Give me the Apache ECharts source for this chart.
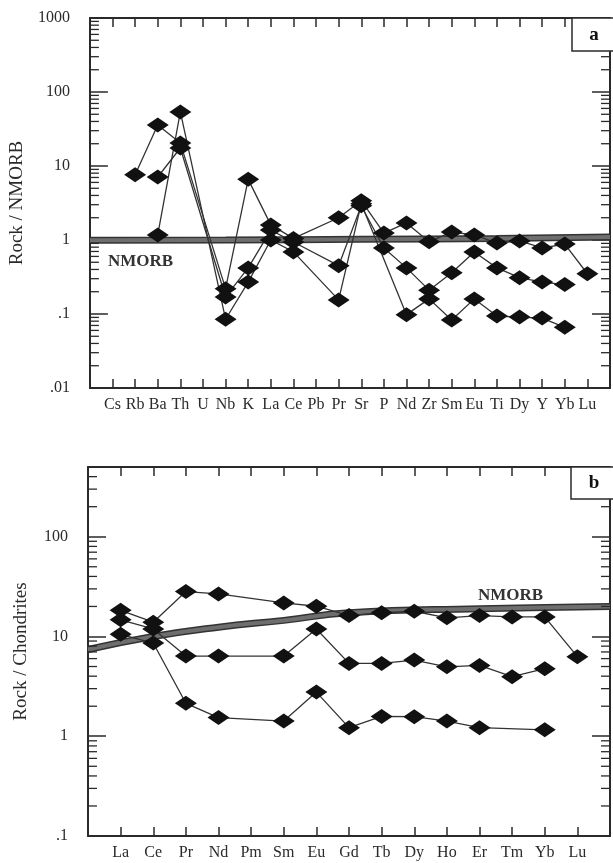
<!DOCTYPE html>
<html>
<head>
<meta charset="utf-8">
<script src="https://cdn.jsdelivr.net/npm/echarts@6/dist/echarts.min.js"></script>
<style>
  html, body { margin: 0; padding: 0; background: #fff; }
  #main { width: 613px; height: 863px; }
</style>
</head>
<body>
<div id="main"></div>
<script>
// spider diagram (a) — NMORB normalised
var spiderCats = ['Cs', 'Rb', 'Ba', 'Th', 'U', 'Nb', 'K', 'La', 'Ce', 'Pb', 'Pr', 'Sr', 'P', 'Nd', 'Zr', 'Sm', 'Eu', 'Ti', 'Dy', 'Y', 'Yb', 'Lu'];
var spiderS1 = [null, 7.6, 35.8, 20.4, null, 0.22, 6.6, 1.6, 1.05, null, 2.0, 3.4, 1.24, 1.7, 0.95, 1.28, 1.17, 0.91, 0.97, 0.78, 0.88, 0.35];
var spiderS2 = [null, null, 7.1, 17.5, null, 0.17, 0.42, 1.36, 0.94, null, 0.45, 2.9, 0.78, 0.42, 0.21, 0.36, 0.69, 0.42, 0.31, 0.27, 0.25, null];
var spiderS3 = [null, null, 1.17, 53.7, null, 0.085, 0.27, 1.0, 0.69, null, 0.155, 3.1, null, 0.098, 0.16, 0.083, 0.16, 0.094, 0.091, 0.088, 0.066, null];
// NMORB reference band, [position, value]
var spiderNmorb = [[0, 0.99], [6, 1.0], [12, 1.02], [18, 1.05], [23, 1.1]];
var spiderTickLabels = ['.01', '.1', '1', '10', '100', '1000'];

// REE diagram (b) — chondrite normalised
var reeCats = ['La', 'Ce', 'Pr', 'Nd', 'Pm', 'Sm', 'Eu', 'Gd', 'Tb', 'Dy', 'Ho', 'Er', 'Tm', 'Yb', 'Lu'];
var reeR1 = [18.3, 13.9, 28.2, 26.7, null, 21.7, 20.1, 16.2, 17.3, 17.9, 15.4, 16.2, 15.7, 15.7, 6.27];
var reeR2 = [14.7, 11.9, 6.36, 6.36, null, 6.36, 11.9, 5.37, 5.37, 5.8, 4.97, 5.13, 3.95, 4.75, null];
var reeR3 = [10.5, 8.6, 2.14, 1.54, null, 1.42, 2.77, 1.22, 1.58, 1.57, 1.42, 1.22, null, 1.16, null];
var reeNmorb = [[0, 7.4], [2, 10.0], [4, 12.4], [6, 14.5], [8, 17.3], [12, 19.0], [16, 20.0]];
var reeTickLabels = ['.1', '1', '10', '100'];

var FONT = 'Liberation Serif';
var INK = '#2a2a2a';

function toPairs(arr) {
    var out = [];
    arr.forEach(function (v, i) {
        if (v !== null) out.push([i + 1, v]);
    });
    return out;
}

function minorValues(lo, hi) {
    var vals = [];
    for (var e = lo; e < hi; e++) {
        for (var m = 2; m <= 9; m++) {
            var v = m * Math.pow(10, e);
            vals.push(v);
        }
    }
    return vals;
}

function logLabel(labels, minExp) {
    return function (v) {
        var e = Math.log10(v);
        if (Math.abs(e - Math.round(e)) > 1e-6) return '';
        return labels[Math.round(e) - minExp] || '';
    };
}

function catLabel(cats) {
    return function (v) {
        return (v >= 1 && v <= cats.length && v === Math.round(v)) ? cats[v - 1] : '';
    };
}

function xAxes(gridIndex, cats) {
    var n = cats.length + 1;
    var base = {
        type: 'value', gridIndex: gridIndex, min: 0, max: n, interval: 1,
        splitLine: { show: false },
        axisLine: { show: true, onZero: false, lineStyle: { color: INK, width: 2 } },
        axisTick: { show: true, inside: true, length: 9, lineStyle: { color: INK, width: 1.5 } }
    };
    var bottom = echarts.util.merge({
        position: 'bottom',
        axisLabel: { formatter: catLabel(cats), color: INK, fontFamily: FONT, fontSize: 16, margin: 9 }
    }, base, true);
    var top = echarts.util.merge({
        position: 'top',
        axisLabel: { show: false }
    }, base, true);
    return [bottom, top];
}

function yAxes(gridIndex, min, max, labels, minExp, title) {
    var base = {
        type: 'log', logBase: 10, gridIndex: gridIndex, min: min, max: max,
        splitLine: { show: false },
        axisLine: { show: true, onZero: false, lineStyle: { color: INK, width: 2 } },
        axisTick: { show: true, inside: true, length: 18, lineStyle: { color: INK, width: 1.5 } }
    };
    var left = echarts.util.merge({
        position: 'left',
        name: title, nameLocation: 'middle', nameGap: 57, nameRotate: 90,
        nameTextStyle: { color: INK, fontFamily: FONT, fontSize: 19 },
        axisLabel: { formatter: logLabel(labels, minExp), color: INK, fontFamily: FONT, fontSize: 16, margin: 20 }
    }, base, true);
    var right = echarts.util.merge({
        position: 'right',
        axisLabel: { show: false }
    }, base, true);
    return [left, right];
}

function sampleSeries(xi, yi, arr) {
    return {
        type: 'line', xAxisIndex: xi, yAxisIndex: yi,
        data: toPairs(arr),
        symbol: 'diamond', symbolSize: [22, 15],
        itemStyle: { color: '#111' },
        lineStyle: { color: '#333', width: 1.3 },
        z: 5, animation: false
    };
}

function bandSeries(xi, yi, pts) {
    return [{
        type: 'line', xAxisIndex: xi, yAxisIndex: yi, data: pts, smooth: true,
        symbol: 'none', lineStyle: { color: '#333', width: 7 }, z: 2, animation: false
    }, {
        type: 'line', xAxisIndex: xi, yAxisIndex: yi, data: pts, smooth: true,
        symbol: 'none', lineStyle: { color: '#6e6e6e', width: 4 }, z: 3, animation: false
    }];
}

function minorTickSeries(xi, yi, xmax, vals) {
    return {
        type: 'custom', xAxisIndex: xi, yAxisIndex: yi, clip: false, silent: true,
        data: vals.map(function (v) { return [0, v]; }),
        encode: { x: 0, y: 1 },
        renderItem: function (params, api) {
            var v = api.value(1);
            var l = api.coord([0, v]);
            var r = api.coord([xmax, v]);
            var st = { stroke: INK, lineWidth: 1.3 };
            return {
                type: 'group', children: [
                    { type: 'line', shape: { x1: l[0], y1: l[1], x2: l[0] + 9, y2: l[1] }, style: st },
                    { type: 'line', shape: { x1: r[0], y1: r[1], x2: r[0] - 9, y2: r[1] }, style: st }
                ]
            };
        },
        z: 4, animation: false
    };
}

var xa = xAxes(0, spiderCats);
var xb = xAxes(1, reeCats);
var ya = yAxes(0, 0.01, 1000, spiderTickLabels, -2, 'Rock / NMORB');
var yb = yAxes(1, 0.1, 500, reeTickLabels, -1, 'Rock / Chondrites');

var series = [].concat(
    bandSeries(0, 0, spiderNmorb),
    [minorTickSeries(0, 0, spiderCats.length + 1, minorValues(-2, 3))],
    [sampleSeries(0, 0, spiderS1), sampleSeries(0, 0, spiderS2), sampleSeries(0, 0, spiderS3)],
    bandSeries(2, 2, reeNmorb),
    [minorTickSeries(2, 2, reeCats.length + 1, minorValues(-1, 3).filter(function (v) { return v < 500; }))],
    [sampleSeries(2, 2, reeR1), sampleSeries(2, 2, reeR2), sampleSeries(2, 2, reeR3)]
);

var option = {
    backgroundColor: '#fff',
    animation: false,
    grid: [
        { left: 88, top: 18, width: 529, height: 370 },
        { left: 88, top: 467, width: 528, height: 369 }
    ],
    xAxis: [xa[0], xa[1], xb[0], xb[1]],
    yAxis: [ya[0], ya[1], yb[0], yb[1]],
    series: series,
    graphic: [
        {
            type: 'rect', z: 100, shape: { x: 572, y: 18, width: 50, height: 33 },
            style: { fill: '#fff', stroke: INK, lineWidth: 1.5 }
        },
        {
            type: 'text', z: 101, x: 594, y: 35,
            style: { text: 'a', font: 'bold 19px "Liberation Serif"', fill: '#111', align: 'center', verticalAlign: 'middle' }
        },
        {
            type: 'rect', z: 100, shape: { x: 571, y: 467, width: 50, height: 32 },
            style: { fill: '#fff', stroke: INK, lineWidth: 1.5 }
        },
        {
            type: 'text', z: 101, x: 594, y: 483,
            style: { text: 'b', font: 'bold 19px "Liberation Serif"', fill: '#111', align: 'center', verticalAlign: 'middle' }
        },
        {
            type: 'text', z: 101, x: 108, y: 262,
            style: { text: 'NMORB', font: 'bold 17px "Liberation Serif"', fill: '#333', verticalAlign: 'middle' }
        },
        {
            type: 'text', z: 101, x: 478, y: 596,
            style: { text: 'NMORB', font: 'bold 17px "Liberation Serif"', fill: '#333', verticalAlign: 'middle' }
        }
    ]
};

var chart = echarts.init(document.getElementById('main'), null, { renderer: 'canvas' });
chart.setOption(option);
</script>
</body>
</html>
